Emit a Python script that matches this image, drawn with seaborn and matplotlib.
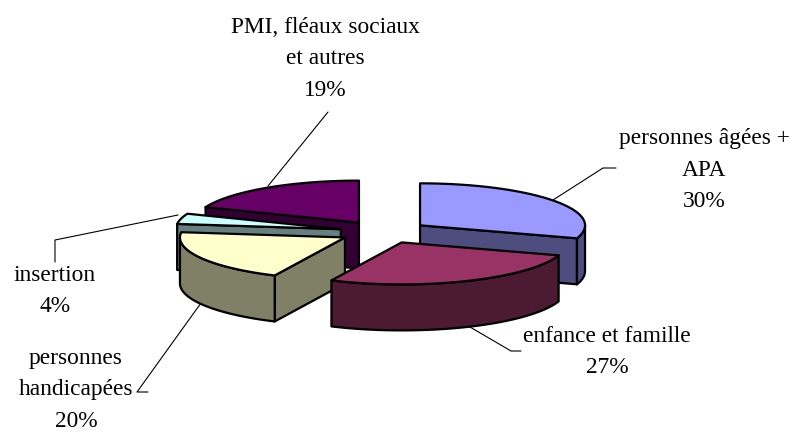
import numpy as np
import matplotlib
matplotlib.use("Agg")
import matplotlib.pyplot as plt
import seaborn as sns

# ========== DATA ==========
categories = ["personnes âgées +\nAPA", "enfance et famille", "personnes\nhandicapées",
              "insertion", "PMI, fléaux sociaux\net autres"]
shares = [30, 27, 20, 4, 19]
top_colors = ["#9999FF", "#993366", "#FFFFCC", "#CCFFFF", "#660066"]
side_colors = ["#4D4D80", "#4D1A33", "#808066", "#668080", "#330033"]

# ========== GEOMETRY (pixels) ==========
CX, CY = 384, 232
RX, RY = 165, 42
DEPTH = 46
EXPLODE = 0.27
DRAW_ORDER = [0, 4, 3, 2, 1]
LW = 1.6

label_pos = [(704, 170), (607, 352), (76, 390), (55, 291), (325, 59)]
leaders = [
    [(553, 200), (603, 168), (616, 168)],
    [(470, 327), (511, 351), (521, 351)],
    [(201, 303), (137, 392), (148, 392)],
    [(178, 215), (55, 240), (55, 262)],
    [(268, 186), (328, 112)],
]

sns.set_style("white")
plt.rcParams["font.family"] = ["Liberation Serif", "DejaVu Serif"]

fig, ax = plt.subplots(figsize=(7.97, 4.32), dpi=100)
fig.subplots_adjust(0, 0, 1, 1)
ax.set_xlim(0, 797)
ax.set_ylim(432, 0)
ax.axis("off")


def rim(x0, y0, angles):
    t = np.radians(angles)
    return x0 + RX * np.sin(t), y0 - RY * np.cos(t)


def face(xs, ys, color, z):
    ax.fill(xs, ys, facecolor=color, edgecolor="black", linewidth=LW, joinstyle="round", zorder=z)


# leader lines sit behind the pie
for pts in leaders:
    xs, ys = zip(*pts)
    ax.plot(xs, ys, color="black", linewidth=0.8, zorder=1)

# slices run clockwise from 12 o'clock
edges = np.cumsum([0] + shares) / sum(shares) * 360
for order, i in enumerate(DRAW_ORDER):
    t1, t2 = edges[i], edges[i + 1]
    mid = np.radians((t1 + t2) / 2)
    x0 = CX + EXPLODE * RX * np.sin(mid)
    y0 = CY - EXPLODE * RY * np.cos(mid)
    z = 2 + order

    # cut faces that look towards the viewer
    for t, seen in [(t1, np.sin(np.radians(t1)) < -1e-6), (t2, np.sin(np.radians(t2)) > 1e-6)]:
        if seen:
            ex, ey = rim(x0, y0, t)
            face([x0, ex, ex, x0], [y0, ey, ey + DEPTH, y0 + DEPTH], side_colors[i], z)

    # outer wall, front half only
    a1, a2 = max(t1, 90), min(t2, 270)
    if a2 > a1:
        ax_, ay_ = rim(x0, y0, np.linspace(a1, a2, 60))
        face(np.r_[ax_, ax_[::-1]], np.r_[ay_, ay_[::-1] + DEPTH], side_colors[i], z)

    # top face
    tx, ty = rim(x0, y0, np.linspace(t1, t2, 80))
    face(np.r_[x0, tx], np.r_[y0, ty], top_colors[i], z)

# labels
for name, share, (lx, ly) in zip(categories, shares, label_pos):
    ax.text(lx, ly, f"{name}\n{share}%", ha="center", va="center", fontsize=16.8,
            linespacing=1.64, color="black", zorder=20)

fig.savefig("out.png", dpi=100)
